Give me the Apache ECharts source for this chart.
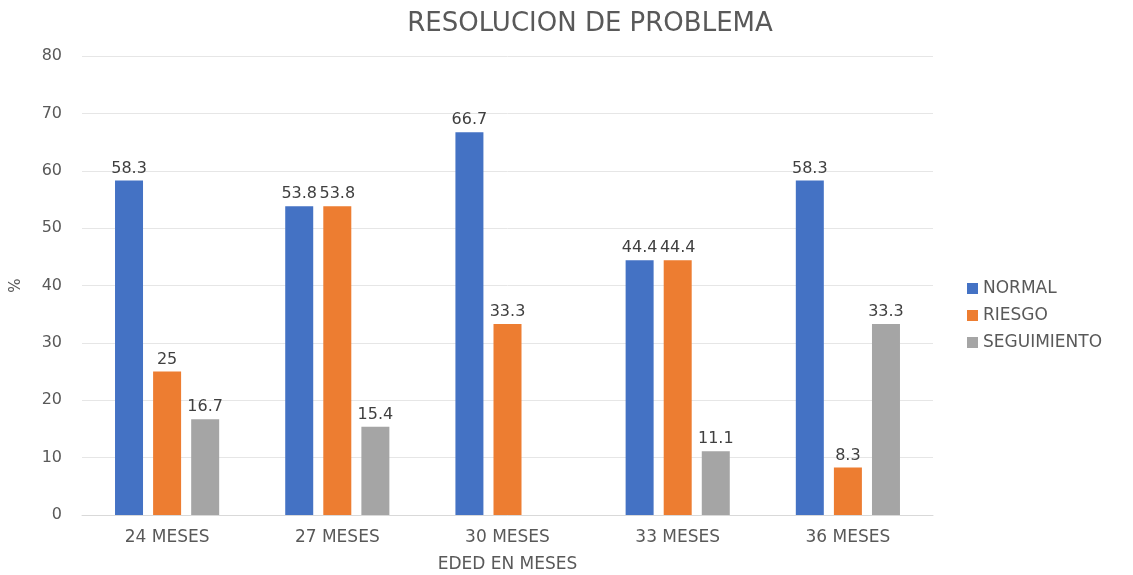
<!DOCTYPE html>
<html>
<head>
<meta charset="utf-8">
<script src="https://cdn.jsdelivr.net/npm/echarts@6/dist/echarts.min.js"></script>
<style>html,body{margin:0;padding:0;background:#fff;width:1133px;height:575px;overflow:hidden;}#c{position:absolute;left:0;top:0;width:1133px;height:575px;}</style>
</head>
<body>
<div id="c"></div>
<script>
const categories = ['24 MESES', '27 MESES', '30 MESES', '33 MESES', '36 MESES'];
const normal = [58.3, 53.8, 66.7, 44.4, 58.3];
const riesgo = [25, 53.8, 33.3, 44.4, 8.3];
const seguimiento = [16.7, 15.4, null, 11.1, 33.3];
const seriesNames = ['NORMAL', 'RIESGO', 'SEGUIMIENTO'];
const colors = ['#4472C4', '#ED7D31', '#A5A5A5'];

const chart = echarts.init(document.getElementById('c'), null, {renderer: 'canvas', width: 1133, height: 575});
const labelStyle = {
  show: true, position: 'top', distance: 4,
  color: '#404040', fontFamily: 'DejaVu Sans', fontSize: 16
};
function mk(name, data, color) {
  return {
    name: name, type: 'bar', data: data, barWidth: 28, barGap: '36%',
    itemStyle: {color: color}, label: labelStyle
  };
}
chart.setOption({
  animation: false,
  backgroundColor: '#ffffff',
  title: {
    text: 'RESOLUCION DE PROBLEMA', left: 585, top: 6, textAlign: 'center',
    textStyle: {fontFamily: 'DejaVu Sans', fontWeight: 'normal', fontSize: 26, color: '#595959'}
  },
  legend: {
    orient: 'vertical', left: 962, top: 275, itemWidth: 11, itemHeight: 11, itemGap: 10,
    icon: 'rect',
    data: seriesNames,
    textStyle: {fontFamily: 'DejaVu Sans', fontSize: 17, color: '#595959'}
  },
  grid: {left: 82, top: 56, width: 851, height: 459, containLabel: false, outerBoundsMode: 'none'},
  xAxis: {
    type: 'category', data: categories,
    name: 'EDED EN MESES', nameLocation: 'middle', nameGap: 41,
    nameTextStyle: {fontFamily: 'DejaVu Sans', fontSize: 17, color: '#595959'},
    axisLine: {lineStyle: {color: '#d9d9d9'}},
    axisTick: {show: false},
    axisLabel: {fontFamily: 'DejaVu Sans', fontSize: 17, color: '#595959', margin: 14}
  },
  yAxis: {
    type: 'value', min: 0, max: 80, interval: 10,
    name: '%', nameLocation: 'middle', nameGap: 58, nameRotate: 90,
    nameTextStyle: {fontFamily: 'DejaVu Sans', fontSize: 15, color: '#595959'},
    axisLine: {show: false}, axisTick: {show: false},
    splitLine: {lineStyle: {color: '#e6e6e6'}},
    axisLabel: {fontFamily: 'DejaVu Sans', fontSize: 16, color: '#595959', margin: 20}
  },
  series: [
    mk(seriesNames[0], normal, colors[0]),
    mk(seriesNames[1], riesgo, colors[1]),
    mk(seriesNames[2], seguimiento, colors[2])
  ]
});
</script>
</body>
</html>
